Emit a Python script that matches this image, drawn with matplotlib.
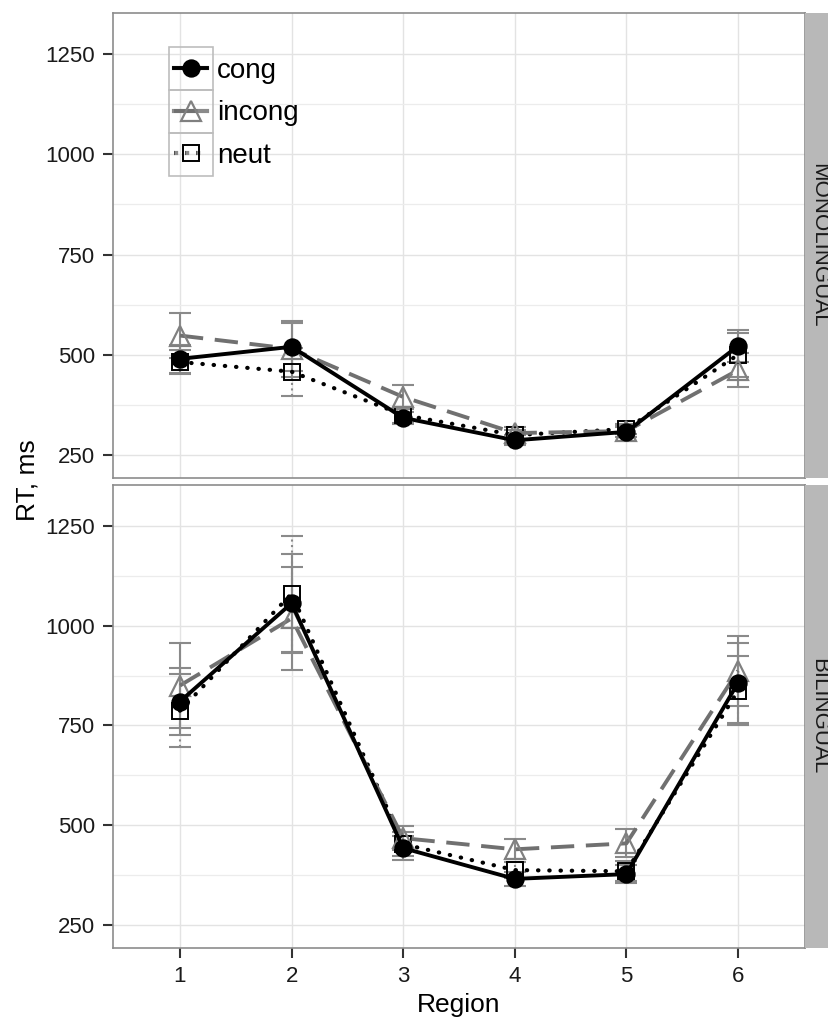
import matplotlib
matplotlib.use('Agg')
import matplotlib.pyplot as plt
from matplotlib.lines import Line2D
from matplotlib.patches import Rectangle
import numpy as np

plt.rcParams['font.family'] = ['Liberation Sans', 'DejaVu Sans']

regions = [1, 2, 3, 4, 5, 6]
groups = ['MONOLINGUAL', 'BILINGUAL']

# mean RT per region, ms
mono_cong = [490, 520, 343, 287, 308, 522]
mono_incong = [548, 515, 395, 305, 310, 462]
mono_neut = [482, 458, 350, 300, 315, 500]
bili_cong = [810, 1056, 443, 366, 378, 857]
bili_incong = [850, 1018, 468, 440, 455, 887]
bili_neut = [787, 1080, 453, 388, 385, 837]

# error bar half-widths
mono_cong_err = [35, 60, 15, 12, 12, 40]
mono_incong_err = [57, 70, 30, 15, 15, 42]
mono_neut_err = [30, 60, 20, 12, 12, 55]
bili_cong_err = [84, 124, 30, 18, 22, 100]
bili_incong_err = [106, 128, 30, 25, 35, 87]
bili_neut_err = [92, 145, 30, 20, 25, 87]

yticks = [250, 500, 750, 1000, 1250]

W, H = 829, 1019
fig = plt.figure(figsize=(W/100, H/100), dpi=100, facecolor='white')

def px(x0, y0, x1, y1):
    return [x0/W, 1-y1/H, (x1-x0)/W, (y1-y0)/H]

STY = {
    'cong': dict(color='black', ls='-', lw=2.8, marker='o', ms=12, mfc='black', mec='black', mew=1.2, z=5),
    'incong': dict(color='#707070', ls=(0, (6, 3)), lw=2.8, marker='^', ms=14, mfc='none', mec='#808080', mew=1.6, z=4),
    'neut': dict(color='black', ls=(0, (0.1, 2.6)), lw=3.0, marker='s', ms=11, mfc='none', mec='black', mew=1.4, z=3),
}
EB_LS = {'cong': '-', 'incong': '-', 'neut': ':'}

panels = [
    (13, 478, {'cong': (mono_cong, mono_cong_err), 'incong': (mono_incong, mono_incong_err), 'neut': (mono_neut, mono_neut_err)}),
    (485, 948, {'cong': (bili_cong, bili_cong_err), 'incong': (bili_incong, bili_incong_err), 'neut': (bili_neut, bili_neut_err)}),
]

axes = []
for i, (top, bot, data) in enumerate(panels):
    ax = fig.add_axes(px(113, top, 805, bot))
    axes.append(ax)
    ax.set_xlim(0.4, 6.6)
    ax.set_ylim(193, 1352)
    ax.set_yticks(yticks)
    ax.set_yticks([375, 625, 875, 1125], minor=True)
    ax.set_xticks(regions)
    ax.grid(True, which='major', color='#e3e3e3', lw=1.0)
    ax.grid(True, which='minor', axis='y', color='#ececec', lw=0.9)
    ax.set_axisbelow(True)
    for s in ax.spines.values():
        s.set_color('#8c8c8c'); s.set_linewidth(1.2)
    ax.tick_params(axis='both', which='major', direction='out', length=7, width=1.5,
                   color='#333333', labelsize=16, labelcolor='#1a1a1a', pad=6)
    ax.tick_params(which='minor', length=0)
    if i == 0:
        ax.tick_params(axis='x', length=0, labelbottom=False)

    for name in ['neut', 'incong', 'cong']:
        y, e = data[name]
        st = STY[name]
        eb = ax.errorbar(regions, y, yerr=e, fmt='none', ecolor='#8a8a8a', elinewidth=1.5,
                         capsize=8, capthick=1.5, zorder=2)
        for c in eb[2]:
            c.set_linestyle(EB_LS[name])
        ax.plot(regions, y, color=st['color'], ls=st['ls'], lw=st['lw'],
                dash_capstyle='round' if name == 'neut' else 'butt', zorder=st['z'])
        ax.plot(regions, y, ls='none', marker=st['marker'], ms=st['ms'], mfc=st['mfc'],
                mec=st['mec'], mew=st['mew'], zorder=st['z'] + 0.5)

    # facet strip on the right
    sx = fig.add_axes(px(805, top, 840, bot))
    sx.set_facecolor('#b8b8b8')
    sx.set_xticks([]); sx.set_yticks([])
    for s in sx.spines.values():
        s.set_visible(False)
    sx.text(0.4, 0.5, groups[i], rotation=-90, ha='center', va='center',
            fontsize=16, color='#1a1a1a', transform=sx.transAxes)

axes[1].set_xlabel('Region', fontsize=19, labelpad=4)
fig.text(28/W, 1-480/H, 'RT, ms', rotation=90, ha='center', va='center', fontsize=19)

# legend with ggplot style key boxes
handles = []
for name in ['cong', 'incong', 'neut']:
    st = STY[name]
    bg = Line2D([], [], color='#8a8a8a', lw=3, ls=EB_LS[name])
    fg = Line2D([], [], color=st['color'], ls=st['ls'], lw=st['lw'], marker=st['marker'],
                ms=st['ms'], mfc=st['mfc'], mec=st['mec'], mew=st['mew'])
    handles.append((bg, fg))
leg = axes[0].legend(handles, ['cong', 'incong', 'neut'], loc='upper left',
                     bbox_to_anchor=(174/W, 1-58/H), bbox_transform=fig.transFigure,
                     frameon=False, fontsize=20, handlelength=1.2, handletextpad=0.36,
                     labelspacing=0.59, borderpad=0, borderaxespad=0)
for k in range(3):
    fig.patches.append(Rectangle((169/W, 1-(47+43*(k+1))/H), 44/W, 43/H, transform=fig.transFigure,
                                 fill=False, ec='#bdbdbd', lw=1.2, zorder=10))
leg.set_zorder(11)

fig.savefig('out.png', dpi=100, facecolor='white')
